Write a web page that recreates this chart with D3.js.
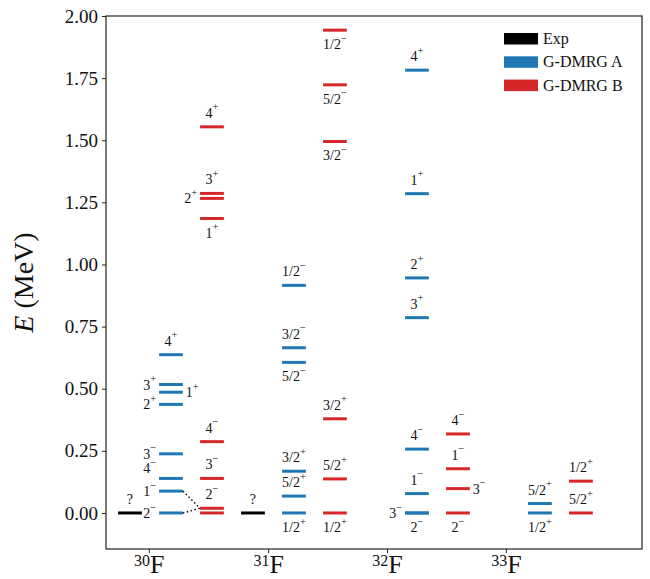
<!DOCTYPE html>
<html>
<head>
<meta charset="UTF-8">
<title>F isotopes levels</title>
<script src="https://d3js.org/d3.v7.min.js"></script>
<style>
	body { margin: 0; background: #fff; }
	text { font-family: "Liberation Serif", "DejaVu Serif", serif; fill: #111; }
</style>
</head>
<body>
<div id="chart"></div>
<script>
	// nuclei on the x axis
	let nuclei = ["30", "31", "32", "33"];
	let tickPos = [0.46, 3.37, 6.27, 9.17];
	let yTicks = [0, 0.25, 0.5, 0.75, 1.0, 1.25, 1.5, 1.75, 2.0];

	// series: nucleus index, energy (MeV), label, label side
	let expNuc = [0, 1];
	let expE = [0.0, 0.0];
	let expLab = ["?", "?"];
	let expSide = ["a", "a"];

	let aNuc = [0, 0, 0, 0, 0, 0, 0, 0,
		1, 1, 1, 1, 1, 1,
		2, 2, 2, 2, 2, 2, 2, 2,
		3, 3];
	let aE = [0.637, 0.517, 0.486, 0.437, 0.238, 0.139, 0.088, 0.0,
		0.916, 0.665, 0.606, 0.168, 0.068, 0.0,
		1.782, 1.285, 0.946, 0.786, 0.257, 0.078, 0.0, 0.0,
		0.038, 0.0];
	let aLab = ["4+", "3+", "1+", "2+", "3-", "4-", "1-", "2-",
		"1/2-", "3/2-", "5/2-", "3/2+", "5/2+", "1/2+",
		"4+", "1+", "2+", "3+", "4-", "1-", "3-", "2-",
		"5/2+", "1/2+"];
	let aSide = ["a", "l", "r", "l", "l", "la", "l", "l",
		"a", "a", "b", "a", "a", "b",
		"a", "a", "a", "a", "a", "a", "l", "b",
		"a", "b"];

	let bNuc = [0, 0, 0, 0, 0, 0, 0, 0,
		1, 1, 1, 1, 1, 1,
		2, 2, 2, 2,
		3, 3];
	let bE = [1.554, 1.286, 1.266, 1.185, 0.287, 0.139, 0.019, 0.0,
		1.943, 1.723, 1.495, 0.379, 0.137, 0.0,
		0.318, 0.178, 0.098, 0.0,
		0.128, 0.0];
	let bLab = ["4+", "3+", "2+", "1+", "4-", "3-", "2-", "",
		"1/2-", "5/2-", "3/2-", "3/2+", "5/2+", "1/2+",
		"4-", "1-", "3-", "2-",
		"1/2+", "5/2+"];
	let bSide = ["a", "a", "l", "b", "a", "a", "a", "a",
		"b", "b", "b", "a", "a", "b",
		"a", "a", "r", "b",
		"a", "a"];

	// dotted connections in 30F: [A energy, B energy]
	let links = [[0.088, 0.019], [0.0, 0.019]];

	let width = 650, height = 579;
	let margin = { left: 106, right: 8, top: 16, bottom: 30 };

	let svg = d3.select("#chart").append("svg")
		.attr("width", width)
		.attr("height", height);

	let x = d3.scaleLinear()
		.domain([-0.585, 12.49])
		.range([margin.left, width - margin.right]);
	let y = d3.scaleLinear()
		.domain([-0.145, 2.0])
		.range([height - margin.bottom, margin.top]);

	let halfW = 0.29;
	let colors = { exp: "#000000", a: "#1f77b4", b: "#d62728" };

	// y axis
	let yAxis = svg.append("g")
		.attr("transform", `translate(${margin.left},0)`)
		.call(d3.axisLeft(y).tickValues(yTicks).tickFormat(d3.format(".2f")).tickSize(4).tickPadding(4));
	yAxis.select(".domain").remove();
	yAxis.selectAll("line").attr("stroke", "#222");
	yAxis.selectAll("text").style("font-size", "19px").attr("fill", "#111");

	// x axis
	let xAxis = svg.append("g")
		.attr("transform", `translate(0,${y.range()[0]})`)
		.call(d3.axisBottom(x).tickValues(tickPos).tickFormat("").tickSize(4));
	xAxis.select(".domain").remove();
	xAxis.selectAll("line").attr("stroke", "#222");

	xAxis.selectAll(".tick").append("text")
		.attr("y", 24)
		.attr("text-anchor", "middle")
		.each(function (d, i) {
			let t = d3.select(this);
			t.append("tspan").text(nuclei[i]).style("font-size", "16px").attr("dy", "-0.45em");
			t.append("tspan").text("F").style("font-size", "26px").attr("dy", "0.28em");
		});

	// frame
	svg.append("rect")
		.attr("x", margin.left)
		.attr("y", margin.top)
		.attr("width", width - margin.left - margin.right)
		.attr("height", y.range()[0] - margin.top)
		.attr("fill", "none")
		.attr("stroke", "#222")
		.attr("stroke-width", 1.2);

	// y label
	let yl = svg.append("text")
		.attr("transform", `translate(33,${(margin.top + y.range()[0]) / 2}) rotate(-90)`)
		.attr("text-anchor", "middle")
		.style("font-size", "28px");
	yl.append("tspan").text("E").style("font-style", "italic");
	yl.append("tspan").text(" (MeV)");

	function pos(nuc, col) { return 3 * nuc + col; }

	function addLabel(g, px, pe, lab, side) {
		if (!lab) return;
		let cx = x(px), cy = y(pe);
		let xl = x(px - halfW), xr = x(px + halfW);
		let tx = cx, ty = cy, anchor = "middle";
		if (side === "a") { ty = cy - 9; }
		else if (side === "b") { ty = cy + 19; }
		else if (side === "l") { tx = xl - 3; ty = cy + 5; anchor = "end"; }
		else if (side === "la") { tx = xl - 3; ty = cy - 5; anchor = "end"; }
		else if (side === "r") { tx = xr + 3; ty = cy + 5; anchor = "start"; }
		let t = g.append("text")
			.attr("x", tx).attr("y", ty)
			.attr("text-anchor", anchor)
			.style("font-size", "14px");
		let m = lab.match(/^(.*?)([+\-]?)$/);
		let base = m[1], sup = m[2];
		t.append("tspan").text(base);
		if (sup) {
			t.append("tspan").text(sup === "-" ? "\u2212" : "+")
				.style("font-size", "10.5px")
				.attr("dy", "-0.7em");
		}
	}

	function drawSeries(nucs, es, labs, sides, col, color) {
		let g = svg.append("g");
		let d = nucs.map((n, i) => ({ n: n, e: es[i], lab: labs[i], side: sides[i] }));
		g.selectAll("line")
			.data(d)
			.join("line")
			.attr("x1", v => x(pos(v.n, col) - halfW))
			.attr("x2", v => x(pos(v.n, col) + halfW))
			.attr("y1", v => y(v.e))
			.attr("y2", v => y(v.e))
			.attr("stroke", color)
			.attr("stroke-width", 3);
		d.forEach(v => addLabel(g, pos(v.n, col), v.e, v.lab, v.side));
	}

	drawSeries(expNuc, expE, expLab, expSide, 0, colors.exp);
	drawSeries(aNuc, aE, aLab, aSide, 1, colors.a);
	drawSeries(bNuc, bE, bLab, bSide, 2, colors.b);

	svg.append("g").selectAll("line")
		.data(links)
		.join("line")
		.attr("x1", x(pos(0, 1) + halfW))
		.attr("x2", x(pos(0, 2) - halfW))
		.attr("y1", d => y(d[0]))
		.attr("y2", d => y(d[1]))
		.attr("stroke", "#111")
		.attr("stroke-width", 1.5)
		.attr("stroke-dasharray", "1.5,2.5");

	// legend
	let legNames = ["Exp", "G-DMRG A", "G-DMRG B"];
	let legColors = [colors.exp, colors.a, colors.b];
	let leg = svg.append("g").attr("transform", "translate(504,33)");
	legNames.forEach((n, i) => {
		leg.append("rect")
			.attr("x", 0).attr("y", i * 23.3)
			.attr("width", 34).attr("height", 11.5)
			.attr("fill", legColors[i]);
		leg.append("text")
			.attr("x", 39).attr("y", i * 23.3 + 11)
			.style("font-size", "16px")
			.text(n);
	});
</script>
</body>
</html>
